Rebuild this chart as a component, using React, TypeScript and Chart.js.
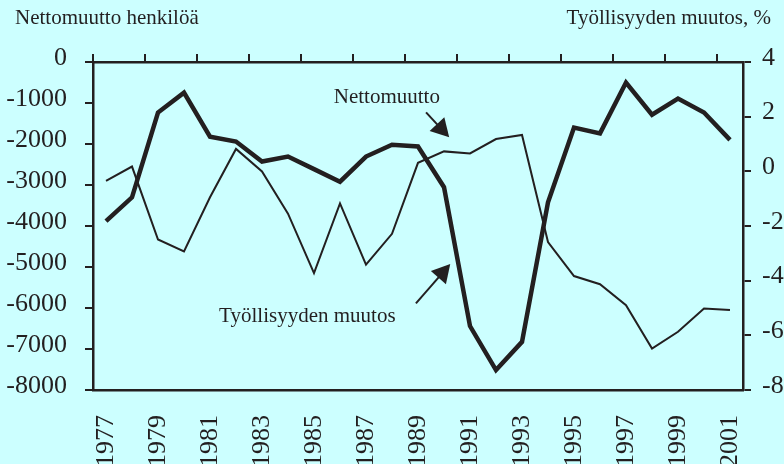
import React, { useEffect, useRef } from "react";
import { Chart, registerables } from "chart.js";

Chart.register(...registerables);

const years = [
  "1977", "1978", "1979", "1980", "1981", "1982", "1983", "1984", "1985",
  "1986", "1987", "1988", "1989", "1990", "1991", "1992", "1993", "1994",
  "1995", "1996", "1997", "1998", "1999", "2000", "2001",
];

// Nettomuutto, henkilöä (left axis)
const nettomuutto = [
  -2900, -2550, -4330, -4620, -3300, -2120, -2670, -3700, -5150, -3450,
  -4940, -4190, -2460, -2180, -2230, -1880, -1780, -4390, -5220, -5420,
  -5930, -6990, -6580, -6010, -6050,
];

// Työllisyyden muutos, % (right axis)
const tyollisyys = [
  -1.82, -0.95, 2.15, 2.88, 1.27, 1.09, 0.36, 0.54, 0.08, -0.38, 0.54,
  0.97, 0.91, -0.58, -5.66, -7.27, -6.24, -1.13, 1.6, 1.39, 3.25, 2.07,
  2.66, 2.15, 1.15,
];

const leftTitle = "Nettomuutto henkilöä";
const rightTitle = "Työllisyyden muutos, %";

// annotation anchors in (year, left-axis value)
const annotations = [
  { text: "Nettomuutto", at: [1985.76, -993], from: [1989.31, -1227], to: [1990.2, -1837] },
  { text: "Työllisyyden muutos", at: [1981.35, -6341], from: [1988.92, -5885], to: [1990.24, -4927] },
];

const INK = "#231f20";
const BG = "#ccffff";
const FONT = "Liberation Serif";

const annotPlugin = {
  id: "annot",
  afterDraw(chart: any) {
    const ctx = chart.ctx;
    const xs = chart.scales.x;
    const ys = chart.scales.y;
    const px = (yr: number) => xs.getPixelForValue(yr - 1977);
    const py = (v: number) => ys.getPixelForValue(v);
    ctx.save();
    ctx.fillStyle = INK;
    ctx.strokeStyle = INK;
    ctx.font = `21px "${FONT}"`;
    ctx.textBaseline = "alphabetic";
    ctx.textAlign = "left";
    ctx.fillText(leftTitle, 15, 24);
    ctx.textAlign = "right";
    ctx.fillText(rightTitle, 771, 24);
    ctx.textAlign = "left";
    for (const a of annotations) {
      ctx.fillText(a.text, px(a.at[0]), py(a.at[1]));
      const sx = px(a.from[0]);
      const sy = py(a.from[1]);
      const tx = px(a.to[0]);
      const ty = py(a.to[1]);
      const dx = tx - sx;
      const dy = ty - sy;
      const len = Math.hypot(dx, dy);
      const ux = dx / len;
      const uy = dy / len;
      const headL = 18;
      const headW = 10;
      const bx = tx - ux * headL;
      const by = ty - uy * headL;
      ctx.lineWidth = 2;
      ctx.beginPath();
      ctx.moveTo(sx, sy);
      ctx.lineTo(bx + ux * 2, by + uy * 2);
      ctx.stroke();
      ctx.beginPath();
      ctx.moveTo(tx, ty);
      ctx.lineTo(bx - uy * headW, by + ux * headW);
      ctx.lineTo(bx + uy * headW, by - ux * headW);
      ctx.closePath();
      ctx.fill();
    }
    ctx.restore();
  },
};

export default function App() {
  const ref = useRef<HTMLCanvasElement | null>(null);

  useEffect(() => {
    if (!ref.current) return;
    const tickFont = { family: FONT, size: 26 };
    const chart = new Chart(ref.current, {
      type: "line",
      data: {
        labels: years,
        datasets: [
          {
            label: "Nettomuutto",
            data: nettomuutto,
            yAxisID: "y",
            xAxisID: "x",
            borderColor: INK,
            borderWidth: 2,
            pointRadius: 0,
            tension: 0,
            fill: false,
          },
          {
            label: "Työllisyyden muutos",
            data: tyollisyys,
            yAxisID: "y1",
            xAxisID: "x",
            borderColor: INK,
            borderWidth: 4.5,
            borderJoinStyle: "miter",
            pointRadius: 0,
            tension: 0,
            fill: false,
          },
        ],
      },
      options: {
        responsive: false,
        animation: false,
        devicePixelRatio: 1,
        layout: { padding: 0 },
        plugins: {
          legend: { display: false },
          tooltip: { enabled: false },
          title: { display: false },
        },
        scales: {
          x: {
            type: "category",
            position: "bottom",
            offset: true,
            grid: { display: false },
            border: { display: true, color: INK, width: 2.5 },
            ticks: {
              autoSkip: false,
              minRotation: 90,
              maxRotation: 90,
              padding: 17,
              color: INK,
              font: tickFont,
              callback: (_v: any, i: number) => (i % 2 === 0 ? years[i] : ""),
            },
            afterFit: (s: any) => {
              s.height = 74;
            },
          },
          x2: {
            type: "category",
            position: "top",
            offset: true,
            grid: {
              display: true,
              offset: true,
              drawOnChartArea: false,
              drawTicks: true,
              tickLength: 8,
              lineWidth: 2,
              color: (c: any) => (c.index % 2 === 0 ? INK : "rgba(0,0,0,0)"),
            },
            border: { display: true, color: INK, width: 2.5 },
            ticks: { display: false },
            afterFit: (s: any) => {
              s.height = 62;
            },
          },
          y: {
            type: "linear",
            position: "left",
            min: -8000,
            max: 0,
            grid: {
              drawOnChartArea: false,
              drawTicks: true,
              tickLength: 8,
              lineWidth: 2,
              color: INK,
            },
            border: { display: true, color: INK, width: 2.5 },
            ticks: {
              stepSize: 1000,
              padding: 18,
              labelOffset: -4,
              color: INK,
              font: tickFont,
              callback: (v: any) => String(v),
            },
            afterFit: (s: any) => {
              s.width = 93;
            },
          },
          y1: {
            type: "linear",
            position: "right",
            min: -8,
            max: 4,
            grid: {
              drawOnChartArea: false,
              drawTicks: true,
              tickLength: 8,
              lineWidth: 2,
              color: INK,
            },
            border: { display: true, color: INK, width: 2.5 },
            ticks: {
              stepSize: 2,
              padding: 11,
              labelOffset: -4,
              color: INK,
              font: tickFont,
              callback: (v: any) => String(v),
            },
            afterFit: (s: any) => {
              s.width = 41;
            },
          },
        },
      },
      plugins: [annotPlugin],
    } as any);
    return () => chart.destroy();
  }, []);

  return (
    <div
      style={{
        position: "absolute",
        left: 0,
        top: 0,
        width: 784,
        height: 464,
        background: BG,
        overflow: "hidden",
      }}
    >
      <canvas ref={ref} width={784} height={464} style={{ display: "block" }} />
    </div>
  );
}
